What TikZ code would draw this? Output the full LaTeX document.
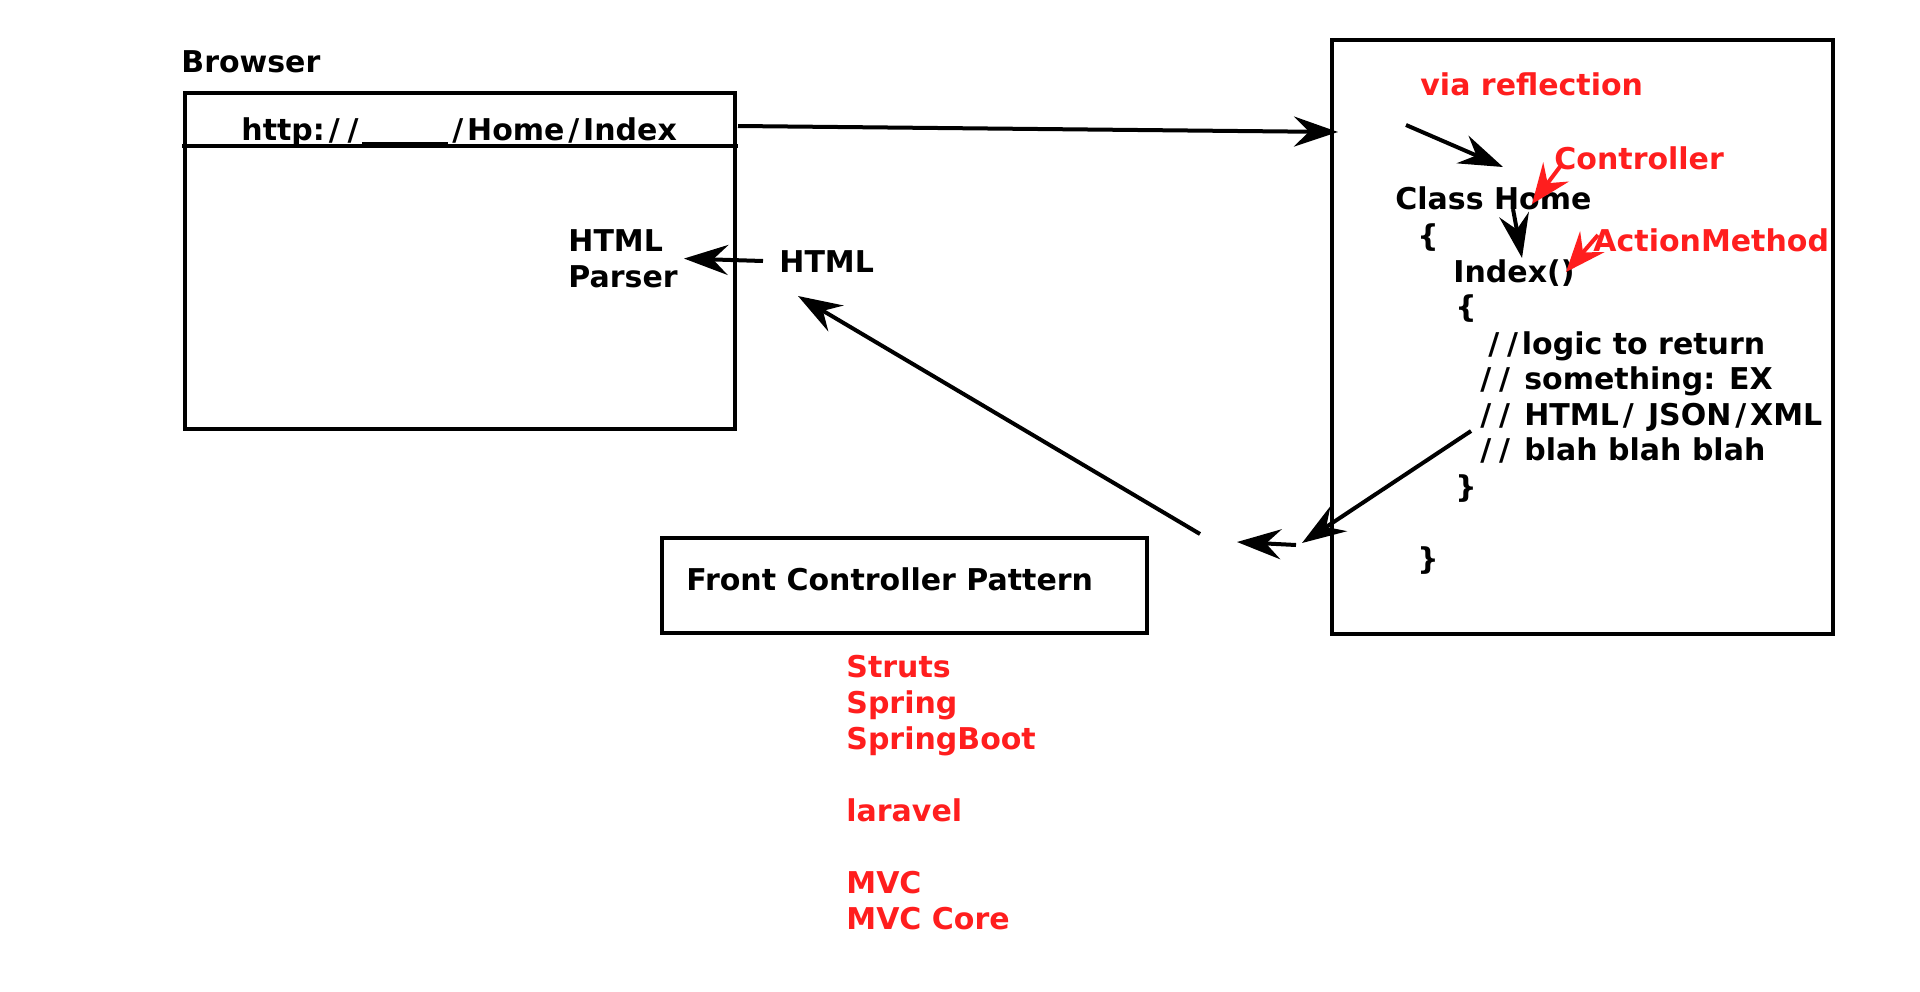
\documentclass[tikz,border=0pt]{standalone}
\usepackage{fontspec}
\setmainfont{DejaVu Sans}
\usetikzlibrary{arrows.meta}
\definecolor{notered}{HTML}{FF1E1E}
\newcommand{\diagfont}{\fontsize{15}{18}\selectfont\bfseries}
\newcommand{\sla}{\kern0.13em/\kern0.13em}
\newcommand{\blank}{\rule[-2.6pt]{43pt}{1.8pt}}

\begin{document}
\begin{tikzpicture}[x=0.5pt, y=-0.5pt]
    \tikzstyle{every node}=[inner sep=0pt, font=\diagfont, text=black]
    \tikzstyle{lbl}=[anchor=west, text height=11pt, text depth=0pt]
    \tikzstyle{note}=[lbl, text=notered]
    \tikzstyle{multi}=[anchor=north west, align=left]
    \tikzstyle{box}=[draw=black, line width=2.1pt, minimum size=0pt]
    \tikzstyle{arrow}=[black, line width=2pt, -{Stealth[length=22pt, width=15pt, inset=7.5pt]}]
    \tikzstyle{redarrow}=[notered, line width=2pt, -{Stealth[length=20pt, width=16pt, inset=7pt]}]

    \useasboundingbox (0,0) rectangle (1920,991);

    % boxes
    \node[box, minimum width=275pt, minimum height=168pt] (browser) at (460,261) {};
    \node[box, minimum width=242.5pt, minimum height=47.5pt] (front) at (904.5,585.5) {};
    \node[box, minimum width=250.5pt, minimum height=297pt] (ctrl) at (1582.5,337) {};
    \draw[line width=2.1pt] (182,146) -- (738,146);

    % browser side
    \node[lbl] (browserlbl) at (181,61) {Browser};
    \node[lbl] (url) at (241,129) {http:\sla\sla\blank\sla Home\sla Index};
    \node[multi] (parser) at (568,229) {HTML\\Parser};
    \node[lbl] (html) at (779,261) {HTML};
    \node[lbl] (frontlbl) at (686,579) {Front Controller Pattern};
    \node[multi, text=notered] (frameworks) at (846,655) {Struts\\Spring\\SpringBoot\\\mbox{}\\laravel\\\mbox{}\\MVC\\MVC Core};

    % controller side
    \node[note] (via) at (1420,84) {via reflection};
    \node[note] (ctrllbl) at (1554,158) {Controller};
    \node[note] (actlbl) at (1593,240) {ActionMethod};
    \node[lbl] (cls) at (1395,198) {Class Home};
    \node[lbl] (clsopen) at (1417,235) {\{};
    \node[lbl] (idx) at (1453,271) {Index()};
    \node[lbl] (idxopen) at (1455,306) {\{};
    \node[lbl] (c1) at (1484,343) {\sla\sla logic to return};
    \node[lbl] (c2) at (1476,378) {\sla\sla\ something: EX};
    \node[lbl] (c3) at (1476,414) {\sla\sla\ HTML\sla\ JSON\sla XML};
    \node[lbl] (c4) at (1476,449) {\sla\sla\ blah blah blah};
    \node[lbl] (idxclose) at (1455,486) {\}};
    \node[lbl] (clsclose) at (1417,558) {\}};

    % arrow ends
    \coordinate (req-a) at (738,126);
    \coordinate (req-b) at (1338,132);
    \coordinate (refl-a) at (1406,125);
    \coordinate (refl-b) at (1503,167);
    \coordinate (call-a) at (1513,209);
    \coordinate (call-b) at (1522,258);
    \coordinate (ctrl-a) at (1562,164);
    \coordinate (ctrl-b) at (1532,204);
    \coordinate (act-a) at (1598,235);
    \coordinate (act-b) at (1566,272);
    \coordinate (ret-a) at (1471,431);
    \coordinate (ret-b) at (1302,543);
    \coordinate (fwd-a) at (1296,545);
    \coordinate (fwd-b) at (1237,542);
    \coordinate (resp-a) at (1200,534);
    \coordinate (resp-b) at (798,296);

    \draw[arrow] (req-a) -- (req-b);
    \draw[arrow] (refl-a) -- (refl-b);
    \draw[arrow] (call-a) -- (call-b);
    \draw[redarrow] (ctrl-a) -- (ctrl-b);
    \draw[redarrow] (act-a) -- (act-b);
    \draw[arrow] (ret-a) -- (ret-b);
    \draw[arrow] (fwd-a) -- (fwd-b);
    \draw[arrow] (resp-a) -- (resp-b);
    \draw[arrow] ([xshift=-8pt]html.west) -- ([xshift=3pt]parser.east);
\end{tikzpicture}
\end{document}
